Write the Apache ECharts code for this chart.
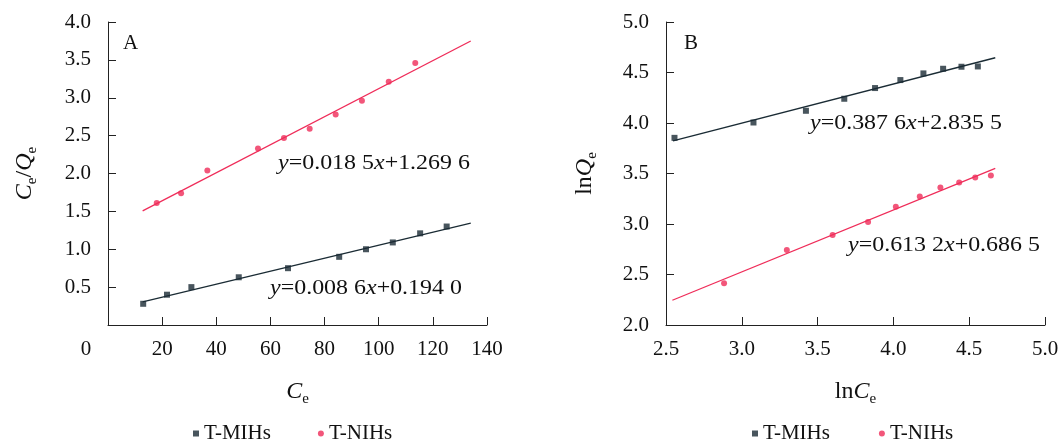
<!DOCTYPE html>
<html><head><meta charset="utf-8">
<script src="https://cdn.jsdelivr.net/npm/echarts@6/dist/echarts.min.js"></script>
<style>html,body{margin:0;padding:0;background:#fff}#c{width:1061px;height:443px}</style>
</head><body><div id="c"></div>
<script>
// ---- data ----
const seriesNames = ['T-MIHs', 'T-NIHs'];
// Panel A: Ce vs Ce/Qe
const A_MIH_Ce   = [13.0, 21.8, 30.8, 48.3, 66.5, 85.4, 95.3, 105.2, 115.3, 125.1];
const A_MIH_CeQe = [0.28, 0.40, 0.50, 0.63, 0.75, 0.90, 1.00, 1.09, 1.21, 1.30];
const A_NIH_Ce   = [18.0, 27.0, 36.7, 55.4, 65.0, 74.5, 84.1, 93.8, 103.7, 113.5];
const A_NIH_CeQe = [1.61, 1.74, 2.04, 2.33, 2.47, 2.59, 2.78, 2.96, 3.21, 3.46];
const A_fit_MIH  = [[12.8, 0.304], [134, 1.346]];
const A_fit_NIH  = [[12.8, 1.506], [134, 3.749]];
const A_eq_MIH = '{i|y}=0.008 6{i|x}+0.194 0';
const A_eq_NIH = '{i|y}=0.018 5{i|x}+1.269 6';
// Panel B: lnCe vs lnQe
const B_MIH_lnCe = [2.556, 3.077, 3.423, 3.676, 3.879, 4.046, 4.198, 4.328, 4.449, 4.557];
const B_MIH_lnQe = [3.853, 4.005, 4.121, 4.240, 4.346, 4.425, 4.491, 4.537, 4.557, 4.560];
const B_NIH_lnCe = [2.883, 3.297, 3.599, 3.833, 4.016, 4.174, 4.310, 4.434, 4.540, 4.643];
const B_NIH_lnQe = [2.413, 2.743, 2.892, 3.021, 3.172, 3.272, 3.361, 3.410, 3.460, 3.480];
const B_fit_MIH  = [[2.546, 3.822], [4.672, 4.646]];
const B_fit_NIH  = [[2.542, 2.245], [4.672, 3.551]];
const B_eq_MIH = '{i|y}=0.387 6{i|x}+2.835 5';
const B_eq_NIH = '{i|y}=0.613 2{i|x}+0.686 5';
const panelLabels = ['A', 'B'];

// ---- style ----
const FF = '"Liberation Serif", "Times New Roman", serif';
const FS = 21;
const NFS = 24;
const BLACK = '#1a2b34';
const RED = '#ef2c59';
const AX = '#222';
const TXT = '#111';

const zip = (a, b) => a.map((v, i) => [v, b[i]]);
const richName = {
  i: { fontStyle: 'italic', fontSize: NFS, fontFamily: FF, color: TXT, lineHeight: 30 },
  n: { fontSize: NFS, fontFamily: FF, color: TXT, lineHeight: 30 },
  s: { fontSize: 15, fontFamily: FF, color: TXT, verticalAlign: 'bottom' }
};
function axisCommon() {
  return {
    type: 'value',
    axisLine: { show: true, onZero: false, lineStyle: { color: AX, width: 1 } },
    axisTick: { show: true, inside: true, length: 8, lineStyle: { color: AX, width: 1 } },
    splitLine: { show: false },
    nameTextStyle: { rich: richName }
  };
}
const labelStyle = () => ({ fontSize: FS, fontFamily: FF, color: TXT });

const option = {
  animation: false,
  backgroundColor: '#fff',
  grid: [
    { left: 108, top: 22, width: 379, height: 303, outerBoundsMode: 'none', containLabel: false },
    { left: 666, top: 22, width: 379, height: 303, outerBoundsMode: 'none', containLabel: false }
  ],
  xAxis: [
    Object.assign(axisCommon(), {
      gridIndex: 0, min: 0, max: 140, interval: 20,
      axisLabel: Object.assign(labelStyle(), {
        margin: 14,
        formatter: v => v === 0 ? '{z|0}' : String(v),
        rich: { z: Object.assign(labelStyle(), { padding: [0, 44, 0, 0] }) }
      }),
      name: '{i|C}{s|e}', nameLocation: 'middle', nameGap: 52
    }),
    Object.assign(axisCommon(), {
      gridIndex: 1, min: 2.5, max: 5.0, interval: 0.5,
      axisLabel: Object.assign(labelStyle(), { margin: 14, formatter: v => v.toFixed(1) }),
      name: '{n|ln}{i|C}{s|e}', nameLocation: 'middle', nameGap: 52
    })
  ],
  yAxis: [
    Object.assign(axisCommon(), {
      gridIndex: 0, min: 0, max: 4.0, interval: 0.5,
      axisLabel: Object.assign(labelStyle(), { margin: 17, formatter: v => v === 0 ? '' : v.toFixed(1) }),
      name: '{i|C}{s|e}{n|/}{i|Q}{s|e}', nameLocation: 'middle', nameGap: 68
    }),
    Object.assign(axisCommon(), {
      gridIndex: 1, min: 2.0, max: 5.0, interval: 0.5,
      axisLabel: Object.assign(labelStyle(), { margin: 17, formatter: v => v.toFixed(1) }),
      name: '{n|ln}{i|Q}{s|e}', nameLocation: 'middle', nameGap: 66
    })
  ],
  legend: [
    { data: [{ name: seriesNames[0], icon: 'rect' }, { name: seriesNames[1], icon: 'circle' }],
      left: 193, top: 423, padding: 0, itemWidth: 6, itemHeight: 6, itemGap: 47,
      textStyle: { fontSize: FS, fontFamily: 'Liberation Serif', color: TXT }, selectedMode: false },
    { data: [{ name: seriesNames[0], icon: 'rect' }, { name: seriesNames[1], icon: 'circle' }],
      left: 752, top: 423, padding: 0, itemWidth: 6, itemHeight: 6, itemGap: 49,
      textStyle: { fontSize: FS, fontFamily: 'Liberation Serif', color: TXT }, selectedMode: false }
  ],
  series: [
    { name: 'fitA1', type: 'line', xAxisIndex: 0, yAxisIndex: 0, data: A_fit_MIH, symbol: 'none', silent: true, lineStyle: { color: BLACK, width: 1.3 }, z: 1 },
    { name: 'fitA2', type: 'line', xAxisIndex: 0, yAxisIndex: 0, data: A_fit_NIH, symbol: 'none', silent: true, lineStyle: { color: RED, width: 1.3 }, z: 1 },
    { name: 'fitB1', type: 'line', xAxisIndex: 1, yAxisIndex: 1, data: B_fit_MIH, symbol: 'none', silent: true, lineStyle: { color: BLACK, width: 1.3 }, z: 1 },
    { name: 'fitB2', type: 'line', xAxisIndex: 1, yAxisIndex: 1, data: B_fit_NIH, symbol: 'none', silent: true, lineStyle: { color: RED, width: 1.3 }, z: 1 },
    { name: seriesNames[0], type: 'scatter', xAxisIndex: 0, yAxisIndex: 0, data: zip(A_MIH_Ce, A_MIH_CeQe), symbol: 'rect', symbolSize: 6, itemStyle: { color: BLACK }, z: 3 },
    { name: seriesNames[1], type: 'scatter', xAxisIndex: 0, yAxisIndex: 0, data: zip(A_NIH_Ce, A_NIH_CeQe), symbol: 'circle', symbolSize: 6, itemStyle: { color: RED }, z: 3 },
    { name: seriesNames[0], type: 'scatter', xAxisIndex: 1, yAxisIndex: 1, data: zip(B_MIH_lnCe, B_MIH_lnQe), symbol: 'rect', symbolSize: 6, itemStyle: { color: BLACK }, z: 3 },
    { name: seriesNames[1], type: 'scatter', xAxisIndex: 1, yAxisIndex: 1, data: zip(B_NIH_lnCe, B_NIH_lnQe), symbol: 'circle', symbolSize: 6, itemStyle: { color: RED }, z: 3 }
  ],
  graphic: []
};

const eqRich = {
  i: { font: 'italic ' + FS + 'px ' + FF, fill: TXT }
};
function eqText(txt, cx, cy) {
  return { type: 'text', x: cx, y: cy, scaleX: 1.14, z: 10, silent: true,
    style: { text: txt, font: FS + 'px ' + FF, fill: TXT, align: 'center', verticalAlign: 'middle', rich: eqRich } };
}
option.graphic = [
  { type: 'text', x: 123, y: 43, style: { text: panelLabels[0], font: FS + 'px ' + FF, fill: TXT, verticalAlign: 'middle' } },
  { type: 'text', x: 684, y: 43, style: { text: panelLabels[1], font: FS + 'px ' + FF, fill: TXT, verticalAlign: 'middle' } },
  eqText(A_eq_NIH, 374, 163),
  eqText(A_eq_MIH, 366, 288),
  eqText(B_eq_MIH, 906, 123),
  eqText(B_eq_NIH, 944, 245)
];

const chart = echarts.init(document.getElementById('c'), null, { renderer: 'canvas' });
chart.setOption(option);
</script>
</body></html>
